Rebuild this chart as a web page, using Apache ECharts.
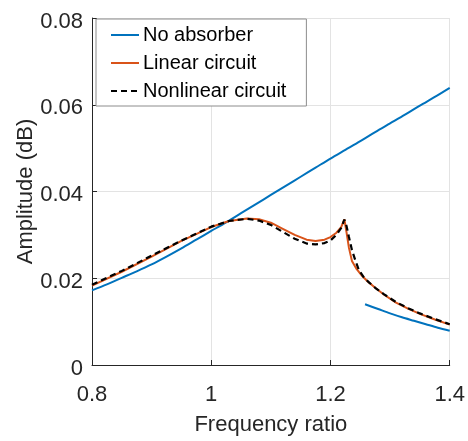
<!DOCTYPE html>
<html>
<head>
<meta charset="utf-8">
<script src="https://cdn.jsdelivr.net/npm/echarts@6/dist/echarts.min.js"></script>
<style>
html,body{margin:0;padding:0;background:#fff;}
#chart{width:468px;height:441px;}
</style>
</head>
<body>
<div id="chart"></div>
<script>
// ---- Data ----
var xTicks = [0.8, 1, 1.2, 1.4];
var yTicks = [0, 0.02, 0.04, 0.06, 0.08];

var noAbsUpperX = [0.8, 0.825, 0.85, 0.875, 0.9, 0.925, 0.95, 0.975, 1.0, 1.025, 1.05, 1.075, 1.1, 1.125, 1.15, 1.175, 1.2, 1.225, 1.25, 1.275, 1.3, 1.325, 1.35, 1.375, 1.4];
var noAbsUpperY = [0.0172, 0.0186, 0.0201, 0.0216, 0.0232, 0.0250, 0.0269, 0.0289, 0.0309, 0.0329, 0.0350, 0.0371, 0.0392, 0.0413, 0.0434, 0.0455, 0.0476, 0.0496, 0.0516, 0.0537, 0.0557, 0.0577, 0.0598, 0.0618, 0.0639];

var noAbsLowerX = [1.258, 1.28, 1.3, 1.32, 1.34, 1.36, 1.38, 1.4];
var noAbsLowerY = [0.0140, 0.0129, 0.0119, 0.0110, 0.0102, 0.0094, 0.0086, 0.0079];

var linearX = [0.80, 0.85, 0.90, 0.95, 1.00, 1.03, 1.06, 1.08, 1.10, 1.12, 1.14, 1.16, 1.175, 1.19, 1.20, 1.21, 1.218, 1.2233, 1.227, 1.231, 1.236, 1.244, 1.252, 1.262, 1.275, 1.29, 1.31, 1.33, 1.35, 1.375, 1.40];
var linearY = [0.0183, 0.0215, 0.0250, 0.0286, 0.0318, 0.0332, 0.0338, 0.0336, 0.0328, 0.0314, 0.0300, 0.0289, 0.0286, 0.0289, 0.0295, 0.0305, 0.0318, 0.0336, 0.0305, 0.0270, 0.0240, 0.0221, 0.0207, 0.0193, 0.0178, 0.0162, 0.0144, 0.0130, 0.0118, 0.0105, 0.0093];

var nonlinX = [0.80, 0.85, 0.90, 0.95, 1.00, 1.03, 1.06, 1.08, 1.10, 1.12, 1.14, 1.16, 1.175, 1.19, 1.20, 1.21, 1.218, 1.2233, 1.227, 1.231, 1.236, 1.242, 1.248, 1.256, 1.265, 1.275, 1.29, 1.31, 1.33, 1.35, 1.375, 1.40];
var nonlinY = [0.0185, 0.0217, 0.0252, 0.0287, 0.0319, 0.0332, 0.0337, 0.0333, 0.0323, 0.0307, 0.0291, 0.0280, 0.0278, 0.0281, 0.0287, 0.0300, 0.0316, 0.0335, 0.0320, 0.0295, 0.0265, 0.0240, 0.0218, 0.0202, 0.0190, 0.0178, 0.0163, 0.0145, 0.0131, 0.0119, 0.0106, 0.0094];

var seriesNames = ['No absorber', 'Linear circuit', 'Nonlinear circuit'];

function pairs(xs, ys) { return xs.map(function (x, i) { return [x, ys[i]]; }); }

var FONT = 'Liberation Sans, Arial, Helvetica, sans-serif';
var TXT = '#262626';

var chart = echarts.init(document.getElementById('chart'), null, {renderer: 'canvas'});
chart.setOption({
  animation: false,
  backgroundColor: '#fff',
  grid: {left: 92, top: 18, width: 360, height: 350, containLabel: false},
  legend: {
    data: seriesNames,
    orient: 'vertical',
    left: 96, top: 19,
    padding: [6, 20, 5, 14],
    itemGap: 8,
    itemWidth: 28,
    itemHeight: 20,
    itemStyle: {opacity: 0},
    backgroundColor: '#fff',
    borderColor: '#8c8c8c',
    borderWidth: 1,
    textStyle: {fontFamily: FONT, fontSize: 20, color: '#000', padding: [0, 0, 0, -1]}
  },
  xAxis: {
    type: 'value', min: 0.8, max: 1.4, interval: 0.2,
    name: 'Frequency ratio', nameLocation: 'middle', nameGap: 49, nameMoveOverlap: false,
    nameTextStyle: {fontFamily: FONT, fontSize: 22, color: TXT},
    axisLine: {show: true, onZero: false, lineStyle: {color: TXT, width: 1}},
    axisTick: {show: true, inside: true, length: 5, lineStyle: {color: TXT}},
    axisLabel: {fontFamily: FONT, fontSize: 22, color: TXT, margin: 19,
      formatter: function (v) { return String(Math.round(v * 10) / 10); }},
    splitLine: {show: true, lineStyle: {color: '#e3e3e3', width: 1}}
  },
  yAxis: {
    type: 'value', min: 0, max: 0.08, interval: 0.02,
    name: 'Amplitude (dB)', nameLocation: 'middle', nameGap: 55, nameMoveOverlap: false,
    nameTextStyle: {fontFamily: FONT, fontSize: 22, color: TXT},
    axisLine: {show: true, onZero: false, lineStyle: {color: TXT, width: 1}},
    axisTick: {show: true, inside: true, length: 5, lineStyle: {color: TXT}},
    axisLabel: {fontFamily: FONT, fontSize: 22, color: TXT, margin: 9,
      formatter: function (v) { return '{v|' + String(Math.round(v * 100) / 100) + '}'; },
      rich: {v: {fontFamily: FONT, fontSize: 22, color: TXT, padding: [7, 0, 0, 0]}}},
    splitLine: {show: true, lineStyle: {color: '#e3e3e3', width: 1}}
  },
  series: [
    {name: seriesNames[0], type: 'line', symbol: 'none', smooth: 0.3, data: pairs(noAbsUpperX, noAbsUpperY),
      lineStyle: {color: '#0072BD', width: 2}, itemStyle: {color: '#0072BD'}, z: 2},
    {name: seriesNames[0], type: 'line', symbol: 'none', smooth: 0.3, data: pairs(noAbsLowerX, noAbsLowerY),
      lineStyle: {color: '#0072BD', width: 2}, itemStyle: {color: '#0072BD'}, z: 2},
    {name: seriesNames[1], type: 'line', symbol: 'none', data: pairs(linearX, linearY),
      lineStyle: {color: '#D95319', width: 2}, itemStyle: {color: '#D95319'}, z: 3},
    {name: seriesNames[2], type: 'line', symbol: 'none', data: pairs(nonlinX, nonlinY),
      lineStyle: {color: '#000', width: 2.2, type: [6, 4]}, itemStyle: {color: '#000'}, z: 4}
  ]
});
</script>
</body>
</html>
